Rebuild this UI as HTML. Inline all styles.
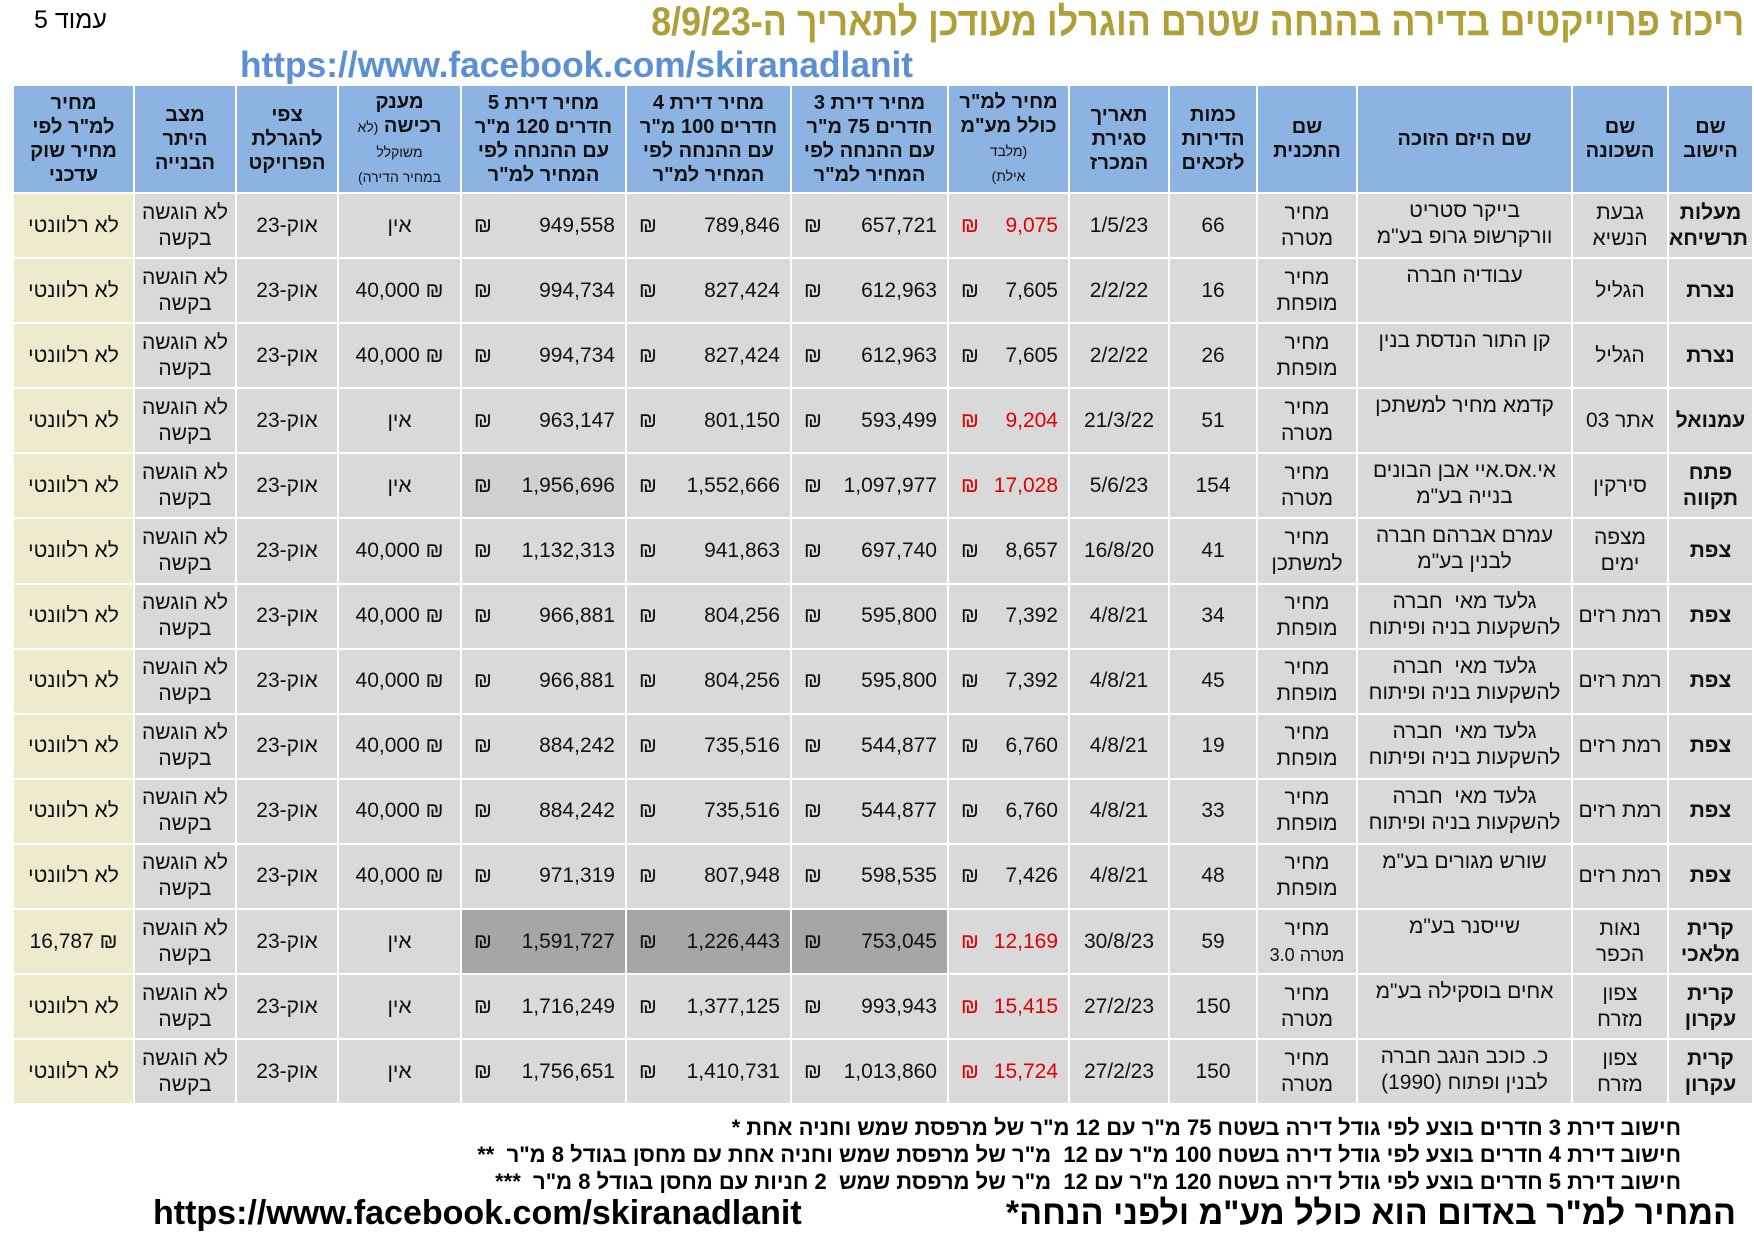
<!DOCTYPE html>
<html><head><meta charset="utf-8">
<style>
body{margin:0;width:1754px;height:1240px;background:#fff;position:relative;overflow:hidden;font-family:"Liberation Sans","DejaVu Sans",sans-serif;}
.abs{position:absolute;white-space:nowrap;}
table{position:absolute;left:12px;top:84px;width:1740px;border-collapse:collapse;table-layout:fixed;direction:rtl;}
td,th{border:2px solid #fff;padding:0 4px;text-align:center;font-size:21px;color:#111;line-height:26px;overflow:hidden;box-sizing:border-box;}
tr.h{height:108px;}
tr.d{height:65.1px;}
th{background:#8db3e2;font-weight:bold;font-size:20px;line-height:24px;padding:0 2px;}
td{background:#d9d9d9;}
td.y{background:#eeeacd;}
td.g{background:#a6a6a6;}
td.b{font-weight:bold;}
td.t{vertical-align:top;padding-top:4px;}
.m{display:flex;justify-content:space-between;direction:ltr;padding:0 6px 0 8px;}
.r{color:#e00000;}
small{font-size:14px;font-weight:normal;}
</style></head><body>
<div class="abs" style="left:34px;top:6px;font-size:25px;direction:rtl;">עמוד 5</div>
<div class="abs" style="right:10px;top:0px;font-size:40px;font-weight:bold;color:#b09f37;direction:rtl;transform:scaleX(0.895);transform-origin:right;">ריכוז פרוייקטים בדירה בהנחה שטרם הוגרלו מעודכן לתאריך ה-8/9/23</div>
<div class="abs" style="left:240px;top:44px;font-size:36px;font-weight:bold;color:#5b8fd6;transform:scaleX(0.98);transform-origin:left;">https://www.facebook.com/skiranadlanit</div>
<table>
<colgroup><col style="width:85px"><col style="width:96px"><col style="width:215px"><col style="width:100px"><col style="width:88px"><col style="width:100px"><col style="width:121px"><col style="width:157px"><col style="width:165px"><col style="width:165px"><col style="width:123px"><col style="width:102px"><col style="width:102px"><col style="width:121px"></colgroup>
<tr class="h"><th>שם<br>הישוב</th><th>שם<br>השכונה</th><th>שם היזם הזוכה</th><th>שם<br>התכנית</th><th>כמות<br>הדירות<br>לזכאים</th><th>תאריך<br>סגירת<br>המכרז</th><th>מחיר למ"ר<br>כולל מע"מ<br><small>(מלבד<br>אילת)</small></th><th>מחיר דירת 3<br>חדרים 75 מ"ר<br>עם ההנחה לפי<br>המחיר למ"ר</th><th>מחיר דירת 4<br>חדרים 100 מ"ר<br>עם ההנחה לפי<br>המחיר למ"ר</th><th>מחיר דירת 5<br>חדרים 120 מ"ר<br>עם ההנחה לפי<br>המחיר למ"ר</th><th>מענק<br>רכישה <small>(לא<br>משוקלל<br>במחיר הדירה)</small></th><th>צפי<br>להגרלת<br>הפרויקט</th><th>מצב<br>היתר<br>הבנייה</th><th>מחיר<br>למ"ר לפי<br>מחיר שוק<br>עדכני</th></tr>
<tr class="d"><td class="b">מעלות<br>תרשיחא</td><td>גבעת<br>הנשיא</td><td class="t">בייקר סטריט<br>וורקרשופ גרופ בע"מ</td><td>מחיר<br>מטרה</td><td>66</td><td>1/5/23</td><td><div class="m r"><span>₪</span><span>9,075</span></div></td><td><div class="m"><span>₪</span><span>657,721</span></div></td><td><div class="m"><span>₪</span><span>789,846</span></div></td><td><div class="m"><span>₪</span><span>949,558</span></div></td><td>אין</td><td>אוק-23</td><td>לא הוגשה<br>בקשה</td><td class="y">לא רלוונטי</td></tr>
<tr class="d"><td class="b">נצרת</td><td>הגליל</td><td class="t">עבודיה חברה</td><td>מחיר<br>מופחת</td><td>16</td><td>2/2/22</td><td><div class="m"><span>₪</span><span>7,605</span></div></td><td><div class="m"><span>₪</span><span>612,963</span></div></td><td><div class="m"><span>₪</span><span>827,424</span></div></td><td><div class="m"><span>₪</span><span>994,734</span></div></td><td>₪ 40,000</td><td>אוק-23</td><td>לא הוגשה<br>בקשה</td><td class="y">לא רלוונטי</td></tr>
<tr class="d"><td class="b">נצרת</td><td>הגליל</td><td class="t">קן התור הנדסת בנין</td><td>מחיר<br>מופחת</td><td>26</td><td>2/2/22</td><td><div class="m"><span>₪</span><span>7,605</span></div></td><td><div class="m"><span>₪</span><span>612,963</span></div></td><td><div class="m"><span>₪</span><span>827,424</span></div></td><td><div class="m"><span>₪</span><span>994,734</span></div></td><td>₪ 40,000</td><td>אוק-23</td><td>לא הוגשה<br>בקשה</td><td class="y">לא רלוונטי</td></tr>
<tr class="d"><td class="b">עמנואל</td><td>אתר 03</td><td class="t">קדמא מחיר למשתכן</td><td>מחיר<br>מטרה</td><td>51</td><td>21/3/22</td><td><div class="m r"><span>₪</span><span>9,204</span></div></td><td><div class="m"><span>₪</span><span>593,499</span></div></td><td><div class="m"><span>₪</span><span>801,150</span></div></td><td><div class="m"><span>₪</span><span>963,147</span></div></td><td>אין</td><td>אוק-23</td><td>לא הוגשה<br>בקשה</td><td class="y">לא רלוונטי</td></tr>
<tr class="d"><td class="b">פתח<br>תקווה</td><td>סירקין</td><td class="t">אי.אס.איי אבן הבונים<br>בנייה בע"מ</td><td>מחיר<br>מטרה</td><td>154</td><td>5/6/23</td><td><div class="m r"><span>₪</span><span>17,028</span></div></td><td><div class="m"><span>₪</span><span>1,097,977</span></div></td><td><div class="m"><span>₪</span><span>1,552,666</span></div></td><td style="background:#d0d0d0"><div class="m"><span>₪</span><span>1,956,696</span></div></td><td>אין</td><td>אוק-23</td><td>לא הוגשה<br>בקשה</td><td class="y">לא רלוונטי</td></tr>
<tr class="d"><td class="b">צפת</td><td>מצפה<br>ימים</td><td class="t">עמרם אברהם חברה<br>לבנין בע"מ</td><td>מחיר<br>למשתכן</td><td>41</td><td>16/8/20</td><td><div class="m"><span>₪</span><span>8,657</span></div></td><td><div class="m"><span>₪</span><span>697,740</span></div></td><td><div class="m"><span>₪</span><span>941,863</span></div></td><td><div class="m"><span>₪</span><span>1,132,313</span></div></td><td>₪ 40,000</td><td>אוק-23</td><td>לא הוגשה<br>בקשה</td><td class="y">לא רלוונטי</td></tr>
<tr class="d"><td class="b">צפת</td><td>רמת רזים</td><td class="t">גלעד מאי&nbsp; חברה<br>להשקעות בניה ופיתוח</td><td>מחיר<br>מופחת</td><td>34</td><td>4/8/21</td><td><div class="m"><span>₪</span><span>7,392</span></div></td><td><div class="m"><span>₪</span><span>595,800</span></div></td><td><div class="m"><span>₪</span><span>804,256</span></div></td><td><div class="m"><span>₪</span><span>966,881</span></div></td><td>₪ 40,000</td><td>אוק-23</td><td>לא הוגשה<br>בקשה</td><td class="y">לא רלוונטי</td></tr>
<tr class="d"><td class="b">צפת</td><td>רמת רזים</td><td class="t">גלעד מאי&nbsp; חברה<br>להשקעות בניה ופיתוח</td><td>מחיר<br>מופחת</td><td>45</td><td>4/8/21</td><td><div class="m"><span>₪</span><span>7,392</span></div></td><td><div class="m"><span>₪</span><span>595,800</span></div></td><td><div class="m"><span>₪</span><span>804,256</span></div></td><td><div class="m"><span>₪</span><span>966,881</span></div></td><td>₪ 40,000</td><td>אוק-23</td><td>לא הוגשה<br>בקשה</td><td class="y">לא רלוונטי</td></tr>
<tr class="d"><td class="b">צפת</td><td>רמת רזים</td><td class="t">גלעד מאי&nbsp; חברה<br>להשקעות בניה ופיתוח</td><td>מחיר<br>מופחת</td><td>19</td><td>4/8/21</td><td><div class="m"><span>₪</span><span>6,760</span></div></td><td><div class="m"><span>₪</span><span>544,877</span></div></td><td><div class="m"><span>₪</span><span>735,516</span></div></td><td><div class="m"><span>₪</span><span>884,242</span></div></td><td>₪ 40,000</td><td>אוק-23</td><td>לא הוגשה<br>בקשה</td><td class="y">לא רלוונטי</td></tr>
<tr class="d"><td class="b">צפת</td><td>רמת רזים</td><td class="t">גלעד מאי&nbsp; חברה<br>להשקעות בניה ופיתוח</td><td>מחיר<br>מופחת</td><td>33</td><td>4/8/21</td><td><div class="m"><span>₪</span><span>6,760</span></div></td><td><div class="m"><span>₪</span><span>544,877</span></div></td><td><div class="m"><span>₪</span><span>735,516</span></div></td><td><div class="m"><span>₪</span><span>884,242</span></div></td><td>₪ 40,000</td><td>אוק-23</td><td>לא הוגשה<br>בקשה</td><td class="y">לא רלוונטי</td></tr>
<tr class="d"><td class="b">צפת</td><td>רמת רזים</td><td class="t">שורש מגורים בע"מ</td><td>מחיר<br>מופחת</td><td>48</td><td>4/8/21</td><td><div class="m"><span>₪</span><span>7,426</span></div></td><td><div class="m"><span>₪</span><span>598,535</span></div></td><td><div class="m"><span>₪</span><span>807,948</span></div></td><td><div class="m"><span>₪</span><span>971,319</span></div></td><td>₪ 40,000</td><td>אוק-23</td><td>לא הוגשה<br>בקשה</td><td class="y">לא רלוונטי</td></tr>
<tr class="d"><td class="b">קרית<br>מלאכי</td><td>נאות<br>הכפר</td><td class="t">שייסנר בע"מ</td><td>מחיר<br><span style="font-size:18px">מטרה 3.0</span></td><td>59</td><td>30/8/23</td><td><div class="m r"><span>₪</span><span>12,169</span></div></td><td class="g"><div class="m"><span>₪</span><span>753,045</span></div></td><td class="g"><div class="m"><span>₪</span><span>1,226,443</span></div></td><td class="g"><div class="m"><span>₪</span><span>1,591,727</span></div></td><td>אין</td><td>אוק-23</td><td>לא הוגשה<br>בקשה</td><td class="y">₪ 16,787</td></tr>
<tr class="d"><td class="b">קרית<br>עקרון</td><td>צפון<br>מזרח</td><td class="t">אחים בוסקילה בע"מ</td><td>מחיר<br>מטרה</td><td>150</td><td>27/2/23</td><td><div class="m r"><span>₪</span><span>15,415</span></div></td><td><div class="m"><span>₪</span><span>993,943</span></div></td><td><div class="m"><span>₪</span><span>1,377,125</span></div></td><td><div class="m"><span>₪</span><span>1,716,249</span></div></td><td>אין</td><td>אוק-23</td><td>לא הוגשה<br>בקשה</td><td class="y">לא רלוונטי</td></tr>
<tr class="d"><td class="b">קרית<br>עקרון</td><td>צפון<br>מזרח</td><td class="t">כ. כוכב הנגב חברה<br>לבנין ופתוח (1990)</td><td>מחיר<br>מטרה</td><td>150</td><td>27/2/23</td><td><div class="m r"><span>₪</span><span>15,724</span></div></td><td><div class="m"><span>₪</span><span>1,013,860</span></div></td><td><div class="m"><span>₪</span><span>1,410,731</span></div></td><td><div class="m"><span>₪</span><span>1,756,651</span></div></td><td>אין</td><td>אוק-23</td><td>לא הוגשה<br>בקשה</td><td class="y">לא רלוונטי</td></tr>
</table>
<div class="abs" style="right:73px;top:1114px;font-size:22px;font-weight:bold;direction:rtl;line-height:27px;text-align:right;">חישוב דירת 3 חדרים בוצע לפי גודל דירה בשטח 75 מ"ר עם 12 מ"ר של מרפסת שמש וחניה אחת *<br>חישוב דירת 4 חדרים בוצע לפי גודל דירה בשטח 100 מ"ר עם 12&nbsp; מ"ר של מרפסת שמש וחניה אחת עם מחסן בגודל 8 מ"ר&nbsp; **<br>חישוב דירת 5 חדרים בוצע לפי גודל דירה בשטח 120 מ"ר עם 12&nbsp; מ"ר של מרפסת שמש&nbsp; 2 חניות עם מחסן בגודל 8 מ"ר&nbsp; ***</div>
<div class="abs" style="left:153px;top:1194px;font-size:34px;font-weight:bold;">https://www.facebook.com/skiranadlanit</div>
<div class="abs" style="right:18px;top:1194px;font-size:34px;font-weight:bold;direction:rtl;">המחיר למ"ר באדום הוא כולל מע"מ ולפני הנחה*</div>
</body></html>
